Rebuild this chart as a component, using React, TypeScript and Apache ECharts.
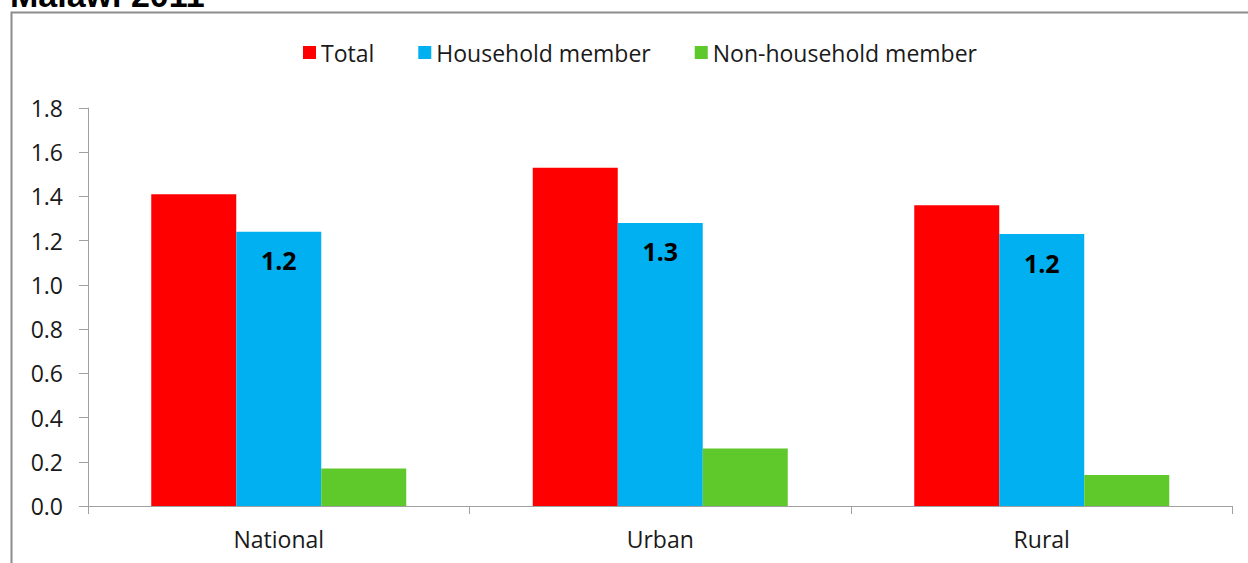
import React, { useEffect, useRef } from "react";
import * as echarts from "echarts";

const categories = ["National", "Urban", "Rural"];
const seriesNames = ["Total", "Household member", "Non-household member"];
const totalValues = [1.41, 1.53, 1.36];
const householdValues = [1.24, 1.28, 1.23];
const nonHouseholdValues = [0.17, 0.26, 0.14];
const colors = ["#FF0000", "#00B0F0", "#5FC82A"];
const titleText = "Malawi 2011";

const FONT = "'Open Sans', 'Noto Sans', sans-serif";

export default function App() {
  const ref = useRef<HTMLDivElement>(null);
  useEffect(() => {
    if (!ref.current) return;
    const chart = echarts.init(ref.current, null, { renderer: "svg" });
    const values = [totalValues, householdValues, nonHouseholdValues];
    chart.setOption({
      animation: false,
      backgroundColor: "#ffffff",
      textStyle: { fontFamily: FONT },
      graphic: [
        {
          type: "rect",
          shape: { x: 11.5, y: 12.5, width: 1300, height: 600 },
          style: { fill: "none", stroke: "#8c8c8c", lineWidth: 2 },
          silent: true,
        },
        {
          type: "text",
          x: 10,
          y: -5,
          style: {
            text: titleText,
            font: "bold 34px 'Liberation Sans', Arial, sans-serif",
            fill: "#000",
            verticalAlign: "middle",
          },
        },
      ],
      legend: {
        data: seriesNames,
        top: 36,
        left: 298,
        itemWidth: 13,
        itemHeight: 13,
        itemGap: 44,
        icon: "rect",
        textStyle: { fontFamily: FONT, fontSize: 23, color: "#1a1a1a" },
      },
      grid: { left: 88, right: 15.5, top: 108, bottom: 57, containLabel: false },
      xAxis: {
        type: "category",
        data: categories,
        axisLine: { lineStyle: { color: "#a0a0a0", width: 1 } },
        axisTick: { show: true, length: 8, lineStyle: { color: "#a0a0a0" } },
        axisLabel: { fontFamily: FONT, fontSize: 23, color: "#1a1a1a", margin: 21 },
      },
      yAxis: {
        type: "value",
        min: 0,
        max: 1.8,
        interval: 0.2,
        axisLine: { show: true, lineStyle: { color: "#a0a0a0", width: 1 } },
        axisTick: { show: true, length: 9, lineStyle: { color: "#a0a0a0" } },
        splitLine: { show: false },
        axisLabel: {
          fontFamily: FONT,
          fontSize: 23,
          color: "#1a1a1a",
          margin: 25,
          formatter: (v: number) => v.toFixed(1),
        },
      },
      series: seriesNames.map((name, i) => ({
        name,
        type: "bar",
        data: values[i],
        barWidth: 85,
        barGap: "0%",
        itemStyle: { color: colors[i] },
        label:
          i === 1
            ? {
                show: true,
                position: "insideTop",
                distance: 16,
                formatter: (p: any) => Number(p.value).toFixed(1),
                fontFamily: FONT,
                fontWeight: "bold",
                fontSize: 25,
                color: "#000",
              }
            : { show: false },
      })),
    });
    return () => chart.dispose();
  }, []);
  return (
    <div
      ref={ref}
      style={{ position: "fixed", left: 0, top: 0, width: 1248, height: 563 }}
    />
  );
}
